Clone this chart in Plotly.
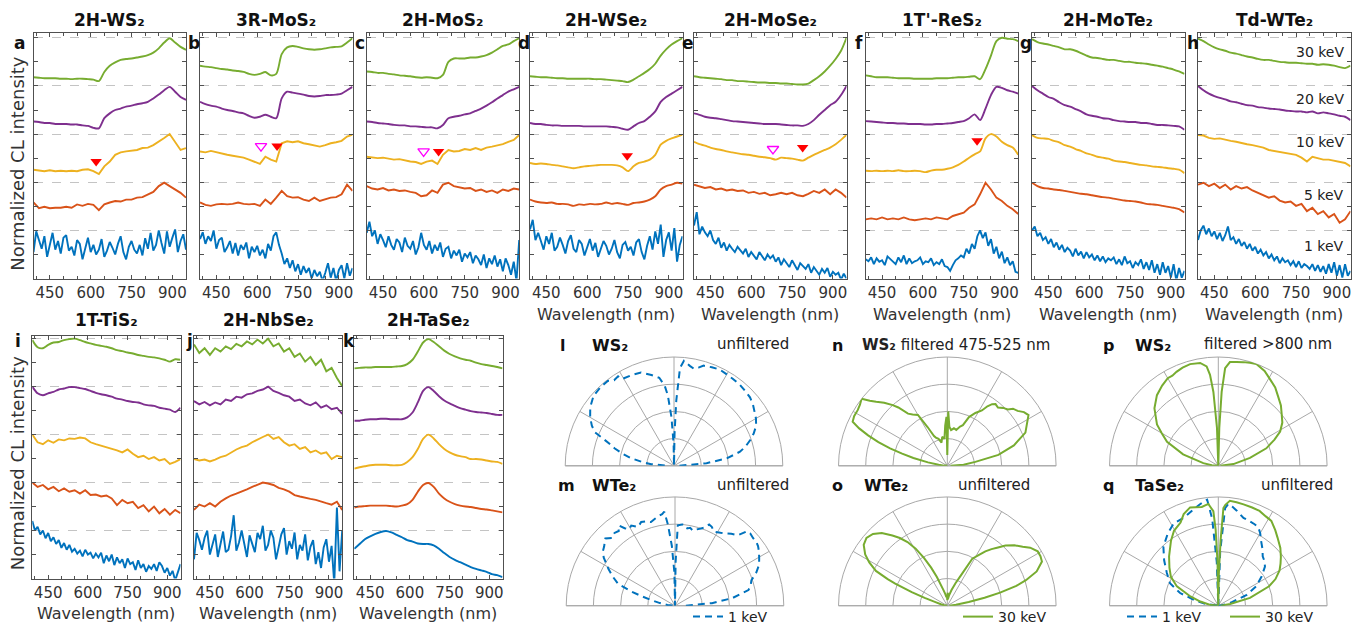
import plotly.graph_objects as go

FIG_W, FIG_H = 1364, 633
FONT = "DejaVu Sans"

# ---------------- wavelength grids (nm) ----------------
WL20 = list(range(390, 951, 20))
WL10 = list(range(390, 951, 10))

ENERGIES = ["1 keV", "5 keV", "10 keV", "20 keV", "30 keV"]
COLORS = ["#0072BD", "#D95319", "#EDB120", "#7E2F8E", "#77AC30"]

# ------------- spectra: percent of each stacked band -------------
# a  2H-WS2
WS2_30 = [18,17,16,16,16,15,15,14,15,15,14,13,10,29,42,49,54,56,57,59,61,64,69,78,90,99,90,81,75]
WS2_20 = [26,25,23,23,21,21,21,20,20,18,17,13,12,33,43,50,53,57,59,62,64,67,74,82,91,98,88,77,71]
WS2_10 = [26,24,23,25,23,24,23,24,23,26,27,23,17,33,43,57,62,64,65,67,71,72,77,84,92,100,83,67,71]
WS2_5 = [58,46,49,46,47,47,49,47,54,51,55,53,42,54,58,61,60,64,64,68,69,75,80,92,99,92,85,78,68]
WS2_1 = [55,98,80,62,88,45,70,95,60,78,52,85,90,58,66,48,80,72,40,62,85,55,70,50,60,82,45,58,76,64,
         50,72,88,55,40,66,78,60,52,70,48,84,62,95,58,70,100,74,52,98,66,85,102,55,78,92,60]
# b  3R-MoS2
MOS2R_30 = [42,40,39,37,35,34,32,31,29,25,23,25,29,22,25,66,80,83,81,78,76,75,76,78,80,81,82,90,99]
MOS2R_20 = [67,62,59,57,53,50,48,45,43,38,34,36,40,36,33,74,88,86,84,82,79,78,79,81,81,82,84,91,98]
MOS2R_10 = [64,62,65,62,60,57,55,53,51,47,43,38,53,47,43,81,85,83,85,81,79,77,74,77,81,83,86,95,99]
MOS2R_5 = [58,53,51,54,55,54,55,58,55,54,55,51,64,55,68,82,71,68,69,64,61,68,61,64,68,69,75,95,82]
MOS2R_1 = [82,96,72,88,78,100,62,80,85,55,65,78,52,74,48,70,60,75,42,66,55,68,48,60,42,72,58,88,96,70,
           52,30,42,22,38,15,30,8,26,12,22,0,18,5,14,-5,12,32,2,22,-5,18,28,0,32,6,22]
# c  2H-MoS2
MOS2H_30 = [30,29,27,27,25,24,22,21,20,18,17,18,17,16,23,50,57,57,57,59,59,61,64,69,76,83,86,93,99]
MOS2H_20 = [26,25,23,22,21,19,18,18,16,16,15,14,14,12,19,33,36,38,41,43,48,53,59,66,74,81,88,93,98]
MOS2H_10 = [53,51,50,51,49,47,48,45,43,42,38,43,45,38,57,67,64,65,69,67,71,67,72,74,77,79,84,88,98]
MOS2H_5 = [92,87,85,88,83,85,82,83,80,78,71,73,83,78,95,99,92,90,87,88,82,85,80,83,78,85,82,87,85]
MOS2H_1 = [95,118,88,100,72,92,80,65,88,70,60,82,75,55,85,68,62,78,50,65,95,70,60,78,52,70,58,75,45,62,
           66,42,58,48,60,35,52,44,55,32,48,40,28,50,22,42,30,48,25,40,15,42,28,8,35,-5,80]
# d  2H-WSe2
WSE2_30 = [20,19,18,18,17,16,16,15,15,15,15,15,14,14,13,12,11,10,8,13,20,27,35,46,63,76,86,93,99]
WSE2_20 = [23,21,21,19,18,18,17,17,17,17,16,16,16,16,16,15,14,11,9,16,23,27,36,47,67,77,84,91,98]
WSE2_10 = [40,38,39,38,36,35,33,31,29,31,33,34,35,36,36,36,35,31,23,33,40,43,47,57,78,86,91,95,99]
WSE2_5 = [64,60,58,57,58,55,55,54,51,54,53,55,54,55,58,55,57,55,53,57,58,60,64,71,85,92,95,99,97]
WSE2_1 = [102,122,80,95,78,60,88,72,95,58,66,85,70,52,78,90,62,55,80,72,48,66,82,58,74,45,60,78,68,50,
          62,80,55,42,70,76,58,66,48,75,82,55,40,68,88,60,98,72,112,45,80,96,58,105,35,70,88]
# e  2H-MoSe2
MOSE2_30 = [20,18,17,16,15,14,12,12,10,10,9,8,7,7,6,6,5,5,4,3,3,5,12,20,30,42,56,73,100]
MOSE2_20 = [43,40,36,34,33,31,29,27,26,25,24,23,22,21,21,21,20,19,18,18,17,21,29,40,50,60,67,81,100]
MOSE2_10 = [84,79,76,72,69,67,64,62,60,58,57,55,53,52,50,47,51,50,49,47,45,51,57,62,67,72,79,88,98]
MOSE2_5 = [95,92,88,90,85,87,83,85,82,83,78,80,76,78,73,75,78,75,78,73,71,76,82,78,85,75,85,78,68]
MOSE2_1 = [110,138,92,108,96,88,100,80,72,85,64,75,58,70,62,55,66,58,52,62,45,55,48,40,55,45,38,50,42,48,
           35,44,28,40,32,24,38,28,18,32,25,20,30,12,24,16,8,20,12,22,4,14,8,12,-2,10,0]
# f  1T'-ReS2
RES2_30 = [22,20,18,18,18,17,16,16,16,15,15,15,15,16,16,16,17,18,18,19,20,14,35,63,93,100,98,97,93]
RES2_20 = [27,26,25,24,23,23,22,22,21,21,21,20,20,21,21,22,23,25,27,33,41,29,53,81,98,96,91,88,84]
RES2_10 = [24,23,24,23,24,23,25,23,23,24,23,21,24,26,26,28,31,36,43,51,58,64,91,100,95,84,77,72,57]
RES2_5 = [23,25,23,27,23,25,23,27,23,21,23,25,23,27,25,23,30,34,37,47,54,75,99,85,68,61,51,44,34]
RES2_1 = [40,36,44,30,42,35,38,28,46,40,36,30,44,34,48,30,42,32,36,38,44,30,36,34,42,28,34,30,40,26,
          24,16,28,38,42,48,44,62,52,72,62,88,100,84,96,68,82,52,66,42,56,32,44,28,36,14,12]
# g  2H-MoTe2
MOTE2_30 = [97,91,88,86,83,80,76,76,73,68,63,59,58,56,54,54,52,50,50,48,47,46,44,42,40,37,34,30,25]
MOTE2_20 = [100,91,84,77,73,66,60,57,52,47,41,38,36,33,32,29,27,26,25,25,23,23,21,19,19,18,17,16,9]
MOTE2_10 = [98,92,91,90,86,83,77,74,69,65,60,57,53,51,49,45,43,42,40,38,36,35,33,32,31,29,28,26,19]
MOTE2_5 = [99,92,88,87,85,84,82,80,78,76,75,73,71,69,68,66,64,62,61,60,58,55,54,53,51,49,47,44,37]
MOTE2_1 = [100,108,88,95,80,86,72,82,65,75,60,70,55,64,58,46,62,48,56,42,55,44,50,38,48,36,46,34,42,38,
           44,30,40,28,46,32,36,22,34,28,40,20,34,18,38,12,30,8,34,12,26,2,30,-4,22,2,16]
# h  Td-WTe2
WTE2_30 = [98,93,86,80,76,73,69,67,64,61,59,56,54,54,52,50,49,48,48,47,46,46,44,45,44,42,39,37,42]
WTE2_20 = [100,91,84,79,75,72,68,66,63,60,59,56,55,53,52,51,49,48,47,47,45,47,43,45,43,41,38,36,29]
WTE2_10 = [98,97,92,90,91,88,86,84,81,79,77,74,72,67,65,62,60,58,57,51,43,53,50,47,47,45,43,40,33]
WTE2_5 = [95,99,92,97,88,95,85,92,87,90,83,78,73,68,71,62,58,60,51,55,40,47,34,40,27,34,16,23,40]
WTE2_1 = [80,100,110,92,104,88,98,82,95,78,90,108,80,86,72,82,68,76,62,72,58,66,52,60,48,55,42,50,38,46,
          32,42,34,38,28,36,24,36,22,30,26,20,30,16,28,14,26,10,30,12,34,6,28,2,30,6,16]
# i  1T-TiS2
TIS2_30 = [97,82,80,87,92,93,97,99,100,97,93,90,87,85,83,80,76,74,71,69,66,64,62,61,59,56,52,57,56]
TIS2_20 = [100,86,82,86,89,94,96,99,99,97,95,91,87,84,82,79,75,73,70,68,67,63,61,60,56,54,52,47,56]
TIS2_10 = [100,84,80,88,83,90,88,92,91,94,92,84,80,77,73,70,67,63,69,60,53,56,49,53,46,49,39,43,49]
TIS2_5 = [100,91,95,86,91,82,88,81,84,77,84,74,75,71,73,67,53,64,57,60,47,53,40,50,36,45,33,43,36]
TIS2_1 = [120,100,108,92,100,84,95,78,86,72,80,64,74,60,70,56,62,52,58,46,60,50,54,42,52,44,54,32,48,36,
          50,28,44,32,40,22,42,30,34,18,38,22,30,14,26,20,30,16,34,26,12,22,6,16,-4,12,30]
# j  2H-NbSe2
NBSE2_30 = [88,70,80,66,80,73,84,78,89,84,94,88,98,90,100,84,90,73,80,62,69,52,62,45,56,32,39,18,1]
NBSE2_20 = [70,63,68,61,67,63,73,70,79,77,84,86,91,94,100,91,87,82,79,70,73,65,61,67,56,61,53,56,43]
NBSE2_10 = [49,46,48,44,48,53,56,63,69,74,77,84,90,95,100,91,95,84,77,80,70,74,63,67,60,63,49,56,53]
NBSE2_5 = [43,54,50,57,50,60,67,73,77,81,86,91,95,100,98,95,89,86,81,74,71,68,66,64,60,57,54,60,43]
NBSE2_1 = [40,95,80,60,85,100,50,72,92,45,70,98,55,60,88,132,58,75,100,68,45,90,72,55,95,82,110,58,70,100,
           85,40,66,92,105,50,78,62,96,40,70,58,92,38,66,80,30,55,22,65,82,35,68,-10,148,15,100]
# k  2H-TaSe2
TASE2_30 = [38,39,40,40,41,41,41,41,42,43,47,56,73,92,99,93,84,75,68,63,59,56,54,50,47,45,43,41,38]
TASE2_20 = [29,29,31,32,32,33,33,32,32,32,36,46,67,91,99,91,80,71,65,60,55,52,49,47,46,45,43,41,41]
TASE2_10 = [29,32,34,36,37,37,37,36,36,37,43,53,70,91,100,92,80,70,63,58,55,53,49,49,48,46,44,43,39]
TASE2_5 = [48,50,51,52,52,52,52,51,50,52,55,64,81,95,99,91,77,67,60,55,52,50,49,47,45,44,42,40,38]
TASE2_1 = [62,72,82,88,93,97,99,96,91,86,80,77,73,72,72,69,62,53,45,39,34,29,24,20,17,14,9,7,3]

TITLES = ["2H-WS₂", "3R-MoS₂", "2H-MoS₂", "2H-WSe₂", "2H-MoSe₂", "1T'-ReS₂", "2H-MoTe₂", "Td-WTe₂",
          "1T-TiS₂", "2H-NbSe₂", "2H-TaSe₂"]
LETTERS = list("abcdefghijk")

# exciton markers (wavelength nm, stacked height)
RED_PANEL = ["a", "b", "c", "d", "e", "f"]
RED_WL = [620, 673, 654, 747, 789, 799]
RED_Y = [2.43, 2.75, 2.64, 2.55, 2.72, 2.86]
OPEN_PANEL = ["b", "c", "e"]
OPEN_WL = [614, 599, 680]
OPEN_Y = [2.75, 2.64, 2.69]

# ---------------- polar (angle deg, normalized intensity) ----------------
L_TH = [0,4.6,8,12,15,18.7,22,26,30,33.6,38,42,47,51,56,60,64.5,69,73.5,76,78.4,81,84.6,86.5,88,89,90,91,93,95,
        96.6,99.5,104,109.5,115,121,122,125,128,133,139,145,150,154,157,159,161,163.6,167,170,173,176,180]
L_R = [0.05,0.30,0.49,0.62,0.68,0.74,0.79,0.84,0.87,0.89,0.92,0.94,0.95,0.96,0.965,0.97,0.98,0.97,0.96,0.93,
       0.91,0.93,0.97,0.9,0.6,0.3,0.0,0.2,0.45,0.65,0.74,0.82,0.86,0.91,0.92,0.93,0.97,0.96,0.99,0.99,
       0.98,0.94,0.89,0.84,0.79,0.70,0.63,0.57,0.48,0.40,0.30,0.21,0.05]
M_TH = [0,4,7.5,12,15,18.4,22.4,26,29.6,33,35.7,38,41,44,46,48.2,52,55.2,58,62.2,65,67.2,69,71.4,74,76.7,79,81,83,85,
        88,89.2,90,91,93,95,96.5,98,100,103,106,109,112,115,118.6,121,123,125,127,129.7,133,136,138,140,143,
        146,148,151,155,159,162,164,166.5,170,175,180]
M_R = [0.1,0.34,0.53,0.69,0.72,0.74,0.81,0.86,0.89,0.92,0.94,0.95,0.95,0.96,0.95,0.87,0.84,0.81,0.79,0.77,
       0.80,0.81,0.77,0.75,0.73,0.71,0.73,0.72,0.75,0.75,0.74,0.4,0.0,0.3,0.55,0.75,0.87,0.85,0.84,0.82,
       0.80,0.82,0.83,0.80,0.84,0.82,0.85,0.90,0.86,0.87,0.85,0.89,0.87,0.85,0.83,0.79,0.75,0.70,0.63,0.56,
       0.42,0.32,0.23,0.14,0.07,0.0]
N_TH = [0,4,8,12,17,23,28,32,35,38,41,43,46,49,52,54,56,58,62,66,69,72,76,80,84,87,89,90,91,93,
        96,100,104,108,112,114,117,120,124,127,130,132,135,138,140,142,145,148,152,155,157,159,161,163,165,
        167,170,173,177,180]
N_R = [0.03,0.15,0.26,0.48,0.64,0.78,0.83,0.88,0.86,0.82,0.80,0.76,0.74,0.71,0.72,0.70,0.66,0.60,0.55,0.49,
       0.40,0.38,0.34,0.35,0.33,0.36,0.5,0.1,0.45,0.37,0.25,0.27,0.22,0.26,0.28,0.30,0.40,0.54,0.57,0.60,
       0.70,0.75,0.82,0.88,0.93,1.0,0.98,0.97,0.97,0.96,0.88,0.78,0.67,0.55,0.43,0.32,0.18,0.08,0.03,0.0]
O_TH = [0,6,10,12,14,16,18,21,25,28,31,35,38,42,46,49,52,55,58,62,66,70,75,80,85,88,90,92,96,100,
        104,110,113,116,119,122,125,128,132,136,140,144,148,151,154,156,157,159,161,163,167,172,180]
O_R = [0.02,0.08,0.2,0.35,0.5,0.66,0.76,0.88,0.96,0.97,0.97,0.93,0.88,0.83,0.77,0.71,0.66,0.61,0.55,0.49,
       0.30,0.22,0.15,0.10,0.06,0.12,0.05,0.10,0.08,0.11,0.15,0.28,0.38,0.49,0.60,0.69,0.76,0.82,0.90,0.95,
       0.97,0.95,0.89,0.82,0.73,0.60,0.52,0.35,0.22,0.12,0.06,0.03,0.0]
P_TH = [0,6.5,14,20,25,29,34,39,44,49,54,59.5,64,69.5,73,76.5,80,83.6,86,87.4,88.5,90,92,93.8,95.2,
        96.7,100,105.5,110,114,117,120,125,131,138,146,150,155,162,170,175,180]
P_R = [0.02,0.14,0.30,0.47,0.57,0.65,0.71,0.75,0.80,0.84,0.89,0.93,0.97,1.0,0.99,0.98,0.97,0.96,0.90,0.68,
       0.35,0.0,0.35,0.68,0.84,0.92,0.96,0.97,0.96,0.945,0.93,0.93,0.90,0.86,0.79,0.68,0.60,0.52,0.34,0.14,
       0.06,0.0]
Q30_TH = [0,8,14,21,25,30,34,38,43,49,53,58,62,66.5,71,76,80,83.7,86,87,88,89,90,91,92,93,95.6,99.5,103,106,
          110.7,114.4,120.6,126,135,142,148.7,155,161.6,167,173,180]
Q30_R = [0.02,0.11,0.30,0.50,0.58,0.65,0.69,0.73,0.78,0.83,0.87,0.92,0.93,0.95,0.955,0.96,0.965,0.97,0.93,0.90,
         0.6,0.3,0.0,0.4,0.7,0.87,0.94,0.92,0.93,0.94,0.90,0.84,0.80,0.74,0.64,0.57,0.51,0.42,0.27,0.17,
         0.08,0.0]
Q1_TH = [0,5,10,14,18,21,27,34,40,44,48,52,57,60,63,66,70,74,79,82,84.4,86,88,90,92,94,96,100,105,111,
         118.5,125,133,140,147.6,155,161.6,166.5,172,180]
Q1_R = [0.0,0.02,0.05,0.12,0.18,0.28,0.39,0.48,0.56,0.59,0.61,0.66,0.72,0.77,0.81,0.82,0.83,0.84,0.89,0.92,
        0.94,0.9,0.5,0.0,0.4,0.8,0.98,0.95,0.91,0.87,0.86,0.81,0.74,0.65,0.56,0.49,0.37,0.23,0.12,0.0]

SPECTRA = [
    [WS2_1, WS2_5, WS2_10, WS2_20, WS2_30],
    [MOS2R_1, MOS2R_5, MOS2R_10, MOS2R_20, MOS2R_30],
    [MOS2H_1, MOS2H_5, MOS2H_10, MOS2H_20, MOS2H_30],
    [WSE2_1, WSE2_5, WSE2_10, WSE2_20, WSE2_30],
    [MOSE2_1, MOSE2_5, MOSE2_10, MOSE2_20, MOSE2_30],
    [RES2_1, RES2_5, RES2_10, RES2_20, RES2_30],
    [MOTE2_1, MOTE2_5, MOTE2_10, MOTE2_20, MOTE2_30],
    [WTE2_1, WTE2_5, WTE2_10, WTE2_20, WTE2_30],
    [TIS2_1, TIS2_5, TIS2_10, TIS2_20, TIS2_30],
    [NBSE2_1, NBSE2_5, NBSE2_10, NBSE2_20, NBSE2_30],
    [TASE2_1, TASE2_5, TASE2_10, TASE2_20, TASE2_30],
]

# curves drawn as raw (jagged) lines; the rest smoothed
JAGGED = {(l, 0) for l in "abcdefghij"} | {("a", 1), ("a", 2), ("b", 1), ("b", 2), ("c", 1), ("c", 2),
          ("e", 1), ("f", 1), ("h", 1), ("h", 2), ("i", 1), ("i", 2), ("j", 1), ("j", 2), ("j", 3), ("j", 4)}

# ---------------- geometry (pixels) ----------------
TOP_LEFT = [33.5, 200, 366.7, 530, 694, 865.7, 1032, 1198]
TOP_W = 152.5
TOP_Y = (33.3, 281.7)
BOT_LEFT = [32.3, 194, 354.3]
BOT_W = 148.2
BOT_Y = (340, 585)
LETTER_X = [19, 194, 360, 524, 688, 859, 1025.5, 1192.5, 17.5, 189.5, 349]

FRAME = "#505050"
GRID = "#a8a8a8"


def fx(px):
    return px / FIG_W


def fy(py):
    return 1 - py / FIG_H


def ann(text, x, y, size, bold=False, xanchor="center", yanchor="middle", angle=0, color="#111"):
    return dict(text=f"<b>{text}</b>" if bold else text, x=fx(x), y=fy(y), xref="paper", yref="paper",
                showarrow=False, xanchor=xanchor, yanchor=yanchor, textangle=angle,
                font=dict(family=FONT, size=size, color=color))


fig = go.Figure()
layout = dict(width=FIG_W, height=FIG_H, margin=dict(l=0, r=0, t=0, b=0),
              paper_bgcolor="white", plot_bgcolor="white",
              font=dict(family=FONT, color="#222"))
annotations = []

for i, curves in enumerate(SPECTRA):
    n = i + 1
    letter = LETTERS[i]
    if i < 8:
        x0 = TOP_LEFT[i]; x1 = x0 + TOP_W; y0, y1 = TOP_Y; ymax = 5.1
    else:
        x0 = BOT_LEFT[i - 8]; x1 = x0 + BOT_W; y0, y1 = BOT_Y; ymax = 5.05
    xname = "xaxis" if n == 1 else f"xaxis{n}"
    yname = "yaxis" if n == 1 else f"yaxis{n}"
    xr = "x" if n == 1 else f"x{n}"
    yr = "y" if n == 1 else f"y{n}"
    layout[xname] = dict(domain=[fx(x0), fx(x1)], anchor=yr, range=[390, 950],
                         showline=True, mirror="ticks", linecolor=FRAME, linewidth=1,
                         ticks="inside", ticklen=4, tickcolor=FRAME, tick0=450, dtick=150,
                         minor=dict(ticks="inside", ticklen=3, tickcolor=FRAME, dtick=50, tick0=400),
                         showgrid=False, zeroline=False,
                         tickfont=dict(family=FONT, size=15, color="#333"))
    layout[yname] = dict(domain=[fy(y1), fy(y0)], anchor=xr, range=[0, ymax],
                         showline=True, mirror="ticks", linecolor=FRAME, linewidth=1,
                         ticks="inside", ticklen=4, tickcolor=FRAME, tick0=0, dtick=1,
                         minor=dict(ticks="inside", ticklen=4, tickcolor=FRAME, dtick=0.5, tick0=0),
                         showticklabels=False, showgrid=True, gridcolor="#c4c4c4",
                         griddash="dash", gridwidth=1, zeroline=False)
    for k, vals in enumerate(curves):
        wl = WL10 if len(vals) == len(WL10) else WL20
        ys = [k + v / 100 for v in vals]
        shape = "linear" if (letter, k) in JAGGED else "spline"
        fig.add_trace(go.Scatter(x=wl, y=ys, mode="lines", xaxis=xr, yaxis=yr,
                                 line=dict(color=COLORS[k], width=1.9, shape=shape, smoothing=0.8),
                                 showlegend=False, hoverinfo="skip", name=ENERGIES[k]))
    # marker triangles
    for p, w, h in zip(RED_PANEL, RED_WL, RED_Y):
        if p == letter:
            fig.add_trace(go.Scatter(x=[w], y=[h], mode="markers", xaxis=xr, yaxis=yr,
                                     marker=dict(symbol="triangle-down", size=10, color="#FF0000",
                                                 line=dict(width=0)),
                                     showlegend=False, hoverinfo="skip"))
    for p, w, h in zip(OPEN_PANEL, OPEN_WL, OPEN_Y):
        if p == letter:
            fig.add_trace(go.Scatter(x=[w], y=[h], mode="markers", xaxis=xr, yaxis=yr,
                                     marker=dict(symbol="triangle-down-open", size=10, color="#FF00FF",
                                                 line=dict(width=1.3)),
                                     showlegend=False, hoverinfo="skip"))
    # titles & letters
    cx = (x0 + x1) / 2
    annotations.append(ann(TITLES[i], cx, 20 if i < 8 else 324, 17, bold=True))
    annotations.append(ann(letter, LETTER_X[i], 43 if i < 8 else 345, 17, bold=True))
    if i >= 3:
        annotations.append(ann("Wavelength (nm)", cx, 318 if i < 8 else 620, 16, color="#333"))

annotations.append(ann("Normalized CL intensity", 17.5, 165, 18, angle=-90, color="#333"))
annotations.append(ann("Normalized CL intensity", 17.5, 468, 18, angle=-90, color="#333"))

# energy labels in panel h
for lab, py in zip(ENERGIES, [248.3, 197.3, 144, 100, 52.3]):
    annotations.append(ann(lab, 1346, py, 14, xanchor="right", color="#222"))

# ---------------- polar plots ----------------
R = 110
POLARS = [  # subplot, centre x, baseline y
    ("polar", 674, 471), ("polar2", 947.3, 471), ("polar3", 1218.3, 471),
    ("polar4", 675, 612.5), ("polar5", 947.3, 612.5), ("polar6", 1218.3, 612.5),
]
for name, cx, cy in POLARS:
    layout[name] = dict(
        domain=dict(x=[fx(cx - R), fx(cx + R)], y=[fy(cy), fy(cy - R)]),
        sector=[0, 180], bgcolor="white",
        radialaxis=dict(range=[0, 1], tickvals=[0.25, 0.5, 0.75, 1.0], showticklabels=False, ticks="",
                        showline=False, gridcolor=GRID, gridwidth=1, layer="below traces"),
        angularaxis=dict(tickmode="array", tickvals=[0, 30, 60, 90, 120, 150, 180], showticklabels=False,
                         ticks="", gridcolor=GRID, gridwidth=1, showline=True, linecolor=GRID, linewidth=1,
                         layer="below traces", rotation=0, direction="counterclockwise"),
    )

DASH = "7px,5px"
BLUE, GREEN = COLORS[0], COLORS[4]
fig.add_trace(go.Scatterpolar(r=L_R, theta=L_TH, subplot="polar", mode="lines",
                              line=dict(color=BLUE, width=2, dash=DASH), showlegend=False, hoverinfo="skip"))
fig.add_trace(go.Scatterpolar(r=N_R, theta=N_TH, subplot="polar2", mode="lines",
                              line=dict(color=GREEN, width=2), showlegend=False, hoverinfo="skip"))
fig.add_trace(go.Scatterpolar(r=P_R, theta=P_TH, subplot="polar3", mode="lines",
                              line=dict(color=GREEN, width=2), showlegend=False, hoverinfo="skip"))
fig.add_trace(go.Scatterpolar(r=M_R, theta=M_TH, subplot="polar4", mode="lines", name="1 keV",
                              line=dict(color=BLUE, width=2, dash=DASH), legend="legend", hoverinfo="skip"))
fig.add_trace(go.Scatterpolar(r=O_R, theta=O_TH, subplot="polar5", mode="lines", name="30 keV",
                              line=dict(color=GREEN, width=2), legend="legend2", hoverinfo="skip"))
fig.add_trace(go.Scatterpolar(r=Q1_R, theta=Q1_TH, subplot="polar6", mode="lines", name="1 keV",
                              line=dict(color=BLUE, width=2, dash=DASH), legend="legend3", hoverinfo="skip"))
fig.add_trace(go.Scatterpolar(r=Q30_R, theta=Q30_TH, subplot="polar6", mode="lines", name="30 keV",
                              line=dict(color=GREEN, width=2), legend="legend3", hoverinfo="skip"))

leg_common = dict(orientation="h", xanchor="left", yanchor="middle", bgcolor="rgba(0,0,0,0)",
                  font=dict(family=FONT, size=14, color="#222"), itemwidth=30, borderwidth=0)
layout["showlegend"] = True
layout["legend"] = dict(x=fx(688), y=fy(624), **leg_common)
layout["legend2"] = dict(x=fx(958), y=fy(624), **leg_common)
layout["legend3"] = dict(x=fx(1122), y=fy(624), entrywidth=58, **leg_common)

# polar titles
for (let, lx, mat, mx, desc, dx, py) in [
    ("l", 562, "WS₂", 590, "unfiltered", 753, 349),
    ("m", 566, "WTe₂", 590, "unfiltered", 753, 491),
    ("o", 837, "WTe₂", 862, "unfiltered", 994, 491),
    ("p", 1108, "WS₂", 1133, "filtered >800 nm", 1268, 349),
    ("q", 1108, "TaSe₂", 1133, "unfiltered", 1296.5, 491),
]:
    annotations.append(ann(let, lx, py, 16, bold=True))
    annotations.append(ann(mat, mx, py, 16, bold=True, xanchor="left"))
    annotations.append(ann(desc, dx, py - 1, 15, color="#222"))
annotations.append(ann("n", 837, 349, 16, bold=True))
annotations.append(ann("<b>WS₂</b> filtered 475-525 nm", 860, 349, 15, xanchor="left", color="#222"))

layout["annotations"] = annotations
fig.update_layout(**layout)
fig.write_html("out.html")
